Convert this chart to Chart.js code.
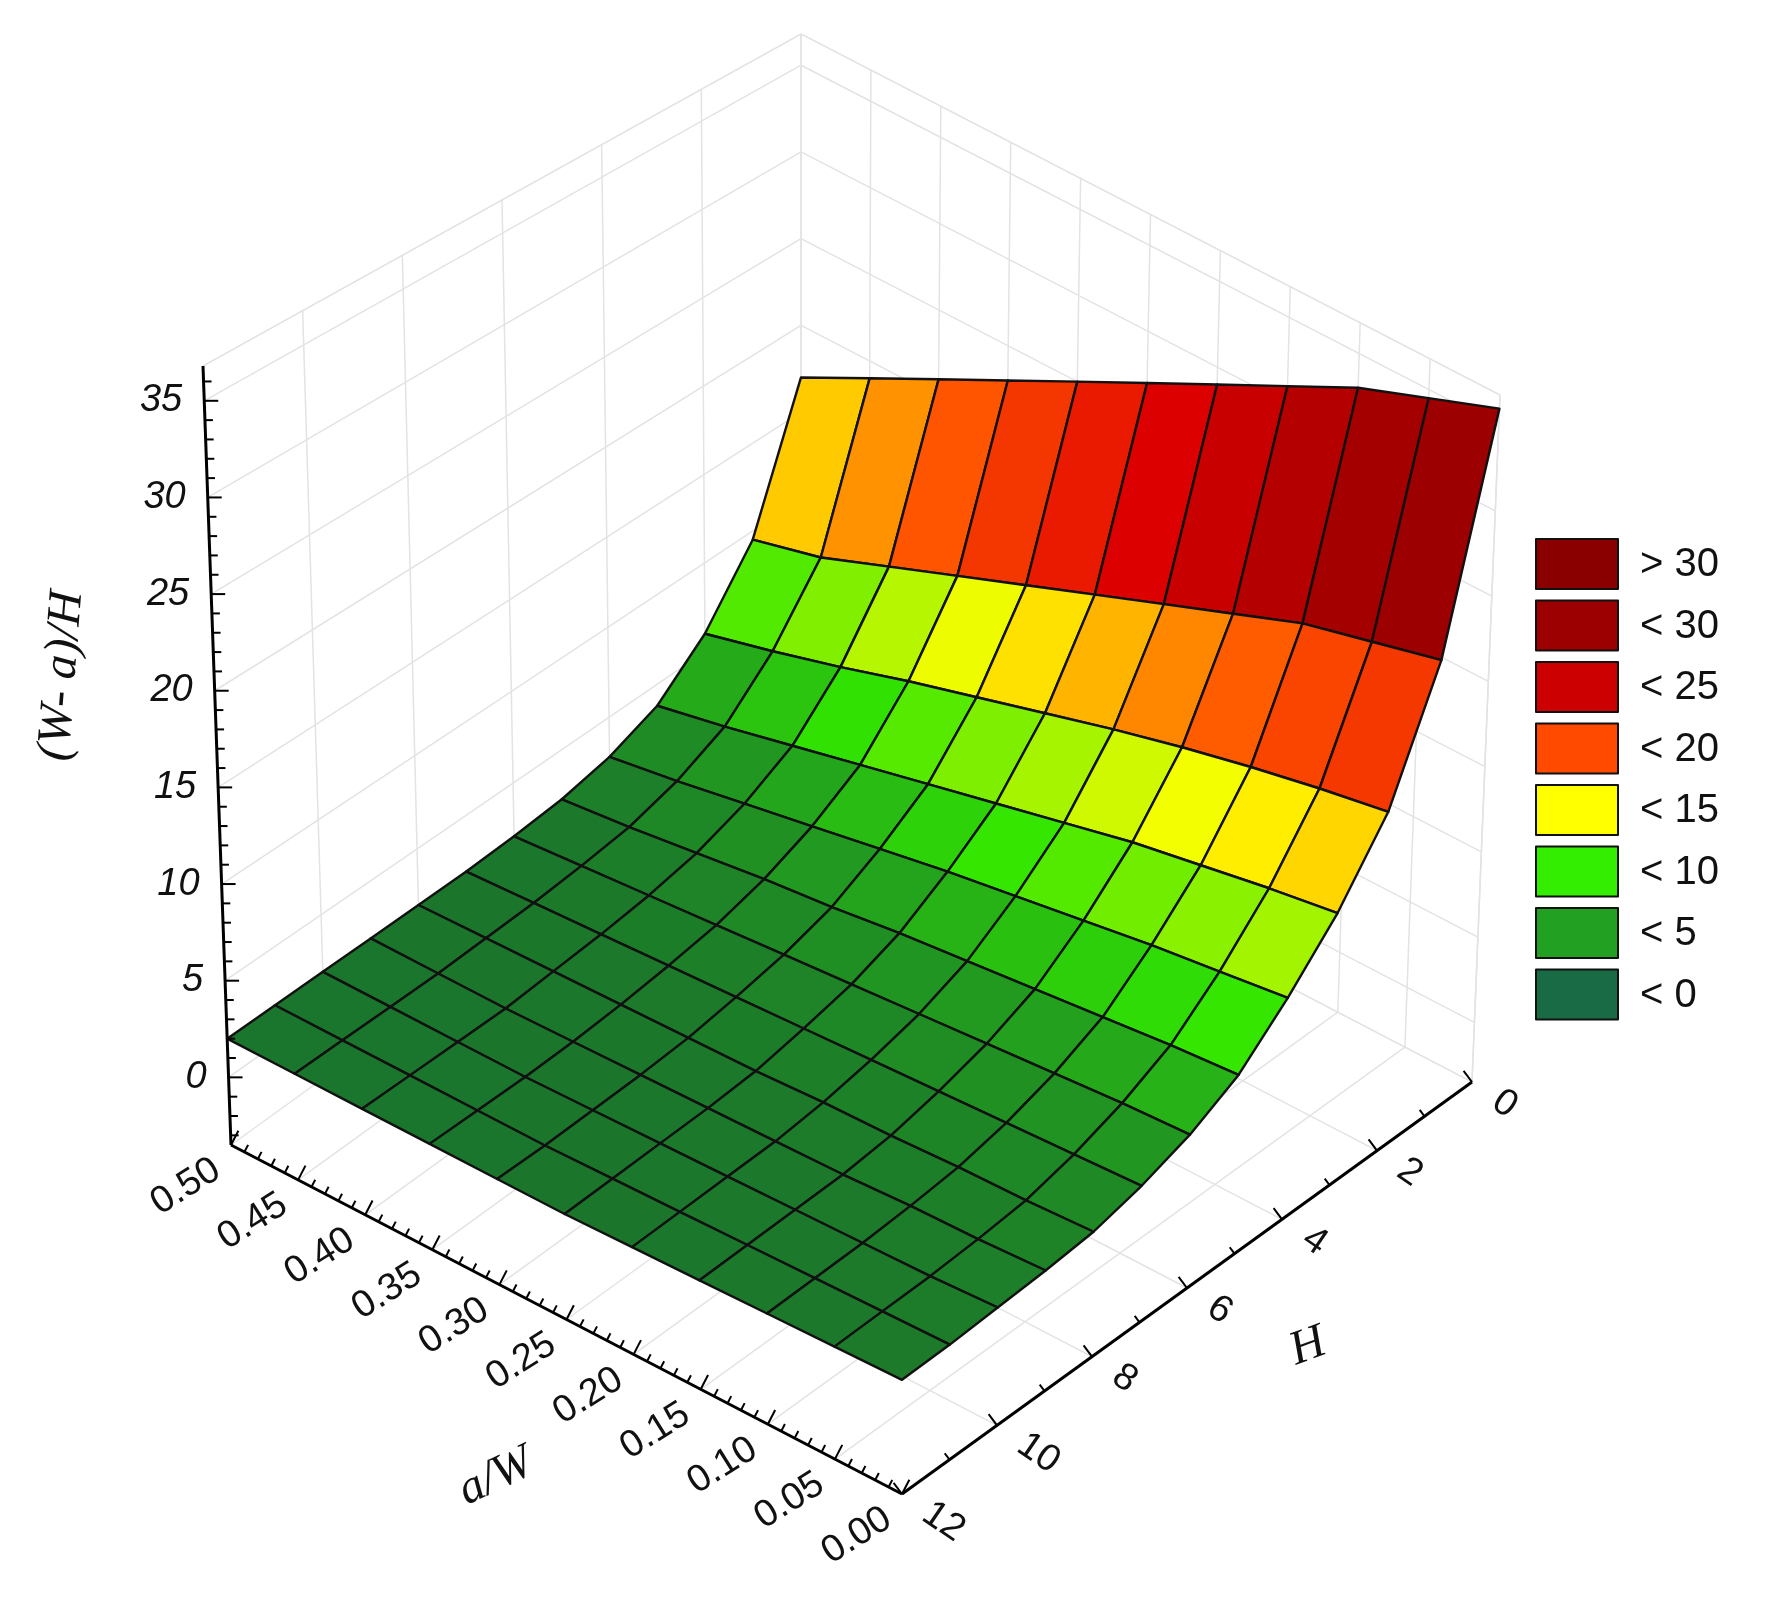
<!DOCTYPE html>
<html><head><meta charset="utf-8">
<script src="https://cdn.jsdelivr.net/npm/chart.js@4.4.0/dist/chart.umd.min.js"></script>
<style>html,body{margin:0;padding:0;background:#fff}#wrap{width:1768px;height:1598px}</style>
</head><body><div id="wrap"><canvas id="c" width="1768" height="1598"></canvas></div>
<script>
// a/W values (columns) and H values (rows)
const awValues = [0,0.05,0.10,0.15,0.20,0.25,0.30,0.35,0.40,0.45,0.50];
const hValues = [0,1,2,3,4,5,6,7,8,9,10,11,12];
// (W-a)/H surface values: rows = H, columns = a/W
const zRowH0  = [36,34.5,33,31,29,27,25,23,21,19,17];
const zRowH1  = [23,22,21,19.5,18,16.5,15,13.5,12,10.5,9.5];
const zRowH2  = [16,15.3,14.5,13.6,12.6,11.5,10.4,9.3,8.1,7,6];
const zRowH3  = [12,11.4,10.7,10,9.1,8.2,7.3,6.4,5.5,4.6,3.8];
const zRowH4  = [9,8.5,8,7.4,6.8,6.2,5.5,4.8,4.1,3.4,2.8];
const zRowH5  = [6.5,6.2,5.8,5.4,5,4.6,4.1,3.7,3.2,2.7,2.3];
const zRowH6  = [5,4.8,4.5,4.2,3.9,3.6,3.3,3,2.7,2.4,2.1];
const zRowH7  = [4,3.8,3.6,3.4,3.2,3,2.8,2.6,2.4,2.2,2];
const zRowH8  = [3.3,3.1,3,2.8,2.7,2.5,2.4,2.3,2.2,2.1,2];
const zRowH9  = [3,2.8,2.7,2.5,2.4,2.3,2.2,2.1,2,2,2];
const zRowH10 = [2.8,2.6,2.5,2.4,2.3,2.2,2.1,2,2,2,2];
const zRowH11 = [2.6,2.5,2.4,2.3,2.2,2.1,2,2,2,2,2];
const zRowH12 = [2.5,2.4,2.3,2.2,2.1,2,2,2,2,2,2];
const zRows = [zRowH0,zRowH1,zRowH2,zRowH3,zRowH4,zRowH5,zRowH6,zRowH7,zRowH8,zRowH9,zRowH10,zRowH11,zRowH12];
const zTicks = [0,5,10,15,20,25,30,35];
const awTicks = [0,0.05,0.10,0.15,0.20,0.25,0.30,0.35,0.40,0.45,0.50];
const hTicks = [0,2,4,6,8,10,12];
const legendLabels = ['> 30','< 30','< 25','< 20','< 15','< 10','< 5','< 0'];
const legendColors = ['#8a0000','#9c0000','#cc0000','#ff4a00','#ffff00','#33ee00','#22a022','#186b45'];

const Z0=-3.5, Z1=36.8;
const C = {F0:[902,1494],FL:[231,1145],R:[1472,1082],B:[801,733],
           F0t:[902,727],FLt:[203,366],Rt:[1500,395],Bt:[801,34]};
function bil(a,b,c,d,u,s){
  return [ (a[0]*(1-u)+b[0]*u)*(1-s)+(c[0]*(1-u)+d[0]*u)*s,
           (a[1]*(1-u)+b[1]*u)*(1-s)+(c[1]*(1-u)+d[1]*u)*s ];
}
function proj(aw,h,z){
  const u=aw/0.5, s=(12-h)/12, t=(z-Z0)/(Z1-Z0);
  const f=bil(C.F0,C.FL,C.R,C.B,u,s), p=bil(C.F0t,C.FLt,C.Rt,C.Bt,u,s);
  return [f[0]+(p[0]-f[0])*t, f[1]+(p[1]-f[1])*t];
}
const stops=[[0,[22,100,55]],[2.5,[28,122,42]],[5,[35,160,30]],[7.5,[50,230,0]],[12.5,[255,255,0]],[17.5,[255,80,0]],[22.5,[222,0,0]],[27.5,[165,0,0]],[33,[130,0,0]]];
function col(z){
  if(z<=stops[0][0]) return 'rgb('+stops[0][1].join(',')+')';
  for(let i=1;i<stops.length;i++){ if(z<=stops[i][0]){const a=stops[i-1],b=stops[i],f=(z-a[0])/(b[0]-a[0]);
    return 'rgb('+[0,1,2].map(k=>Math.round(a[1][k]+(b[1][k]-a[1][k])*f)).join(',')+')';}}
  return 'rgb('+stops[stops.length-1][1].join(',')+')';
}

const surfacePlugin={id:'surf',afterDatasetsDraw(chart){
  const ctx=chart.ctx, xs=chart.scales.x, ys=chart.scales.y;
  const P=(aw,h,z)=>{const q=proj(aw,h,z);return [xs.getPixelForValue(q[0]),ys.getPixelForValue(q[1])];};
  const line=(a,b,c,w)=>{ctx.beginPath();ctx.moveTo(a[0],a[1]);ctx.lineTo(b[0],b[1]);ctx.strokeStyle=c;ctx.lineWidth=w;ctx.stroke();};
  ctx.save();
  const g='#e3e3e3';
  for(let h=0;h<=12;h+=2){line(P(0.5,h,Z0),P(0.5,h,Z1),g,1.5);line(P(0,h,Z0),P(0.5,h,Z0),g,1.5);}
  for(const aw of awTicks){line(P(aw,0,Z0),P(aw,0,Z1),g,1.5);line(P(aw,0,Z0),P(aw,12,Z0),g,1.5);}
  for(const z of zTicks){line(P(0.5,12,z),P(0.5,0,z),g,1.5);line(P(0.5,0,z),P(0,0,z),g,1.5);}
  line(P(0.5,12,Z1),P(0.5,0,Z1),g,1.5);line(P(0.5,0,Z1),P(0,0,Z1),g,1.5);
  line(P(0,0,Z0),P(0,0,Z1),g,1.5);
  const cells=[];
  for(let i=0;i<hValues.length-1;i++)for(let j=0;j<awValues.length-1;j++){
    cells.push({i,j,d:(j+0.5)/10+(1-(i+0.5)/12)});
  }
  cells.sort((a,b)=>b.d-a.d);
  for(const c of cells){
    const {i,j}=c;
    const pts=[[i,j],[i,j+1],[i+1,j+1],[i+1,j]].map(([a,b])=>P(awValues[b],hValues[a],zRows[a][b]));
    const zm=(zRows[i][j]+zRows[i][j+1]+zRows[i+1][j]+zRows[i+1][j+1])/4;
    ctx.beginPath();pts.forEach((p,k)=>k?ctx.lineTo(p[0],p[1]):ctx.moveTo(p[0],p[1]));ctx.closePath();
    ctx.fillStyle=col(zm);ctx.fill();ctx.strokeStyle='#111';ctx.lineWidth=2.4;ctx.lineJoin='round';ctx.stroke();
  }
  const k='#000';
  line(P(0.5,12,Z0),P(0.5,12,Z1),k,3);
  line(P(0.5,12,Z0),P(0,12,Z0),k,3);
  line(P(0,12,Z0),P(0,0,Z0),k,3);
  for(let z=-3;z<=36;z++){const p=P(0.5,12,z);line(p,[p[0]+(z%5===0?14:8),p[1]],k,2);}
  for(let a=0;a<=50;a++){const aw=a/100,p=P(aw,12,Z0);const L=a%5===0?16:8;line(p,[p[0]+L*0.46,p[1]-L*0.89],k,2);}
  for(let h=0;h<=12;h++){const p=P(0,h,Z0);const L=h%2===0?14:8;line(p,[p[0]-L*0.6,p[1]-L*0.8],k,2);}
  ctx.fillStyle='#111';
  ctx.font='italic 38px "Liberation Sans", Arial, sans-serif';
  ctx.textAlign='right';ctx.textBaseline='middle';
  for(const z of zTicks){const p=P(0.5,12,z);ctx.fillText(String(z),p[0]-22,p[1]);}
  ctx.font='38px "Liberation Sans", Arial, sans-serif';
  for(const aw of awTicks){const p=P(aw,12,Z0);ctx.save();ctx.translate(p[0]-14,p[1]+22);ctx.rotate(-0.56);ctx.textAlign='right';ctx.fillText(aw.toFixed(2),0,0);ctx.restore();}
  for(const h of hTicks){const p=P(0,h,Z0);ctx.save();ctx.translate(p[0]+24,p[1]+16);ctx.rotate(0.6);ctx.textAlign='left';ctx.fillText(String(h),0,0);ctx.restore();}
  ctx.font='italic 48px "Liberation Serif", "DejaVu Serif", serif';ctx.textAlign='center';
  ctx.save();ctx.translate(62,676);ctx.rotate(-Math.PI/2+0.08);ctx.fillText('(W- a)/H',0,0);ctx.restore();
  ctx.save();ctx.translate(496,1477);ctx.rotate(-0.45);ctx.fillText('a/W',0,0);ctx.restore();
  ctx.save();ctx.translate(1308,1347);ctx.rotate(-0.35);ctx.fillText('H',0,0);ctx.restore();
  ctx.font='40px "Liberation Sans", Arial, sans-serif';ctx.textAlign='left';
  legendLabels.forEach((t,n)=>{const x=xs.getPixelForValue(1536),y=ys.getPixelForValue(539+n*61.5);
    ctx.fillStyle=legendColors[n];ctx.fillRect(x,y,82,50);ctx.strokeStyle='#111';ctx.lineWidth=2;ctx.strokeRect(x,y,82,50);
    ctx.fillStyle='#111';ctx.fillText(t,x+104,y+26);});
  ctx.restore();
}};

new Chart(document.getElementById('c'),{
  type:'scatter',
  data:{datasets:[{data:[],pointRadius:0}]},
  options:{responsive:false,animation:false,devicePixelRatio:1,
    layout:{padding:0},
    plugins:{legend:{display:false},tooltip:{enabled:false}},
    scales:{x:{type:'linear',min:0,max:1768,display:false},
            y:{type:'linear',min:0,max:1598,reverse:true,display:false}}},
  plugins:[surfacePlugin]
});
</script></body></html>
